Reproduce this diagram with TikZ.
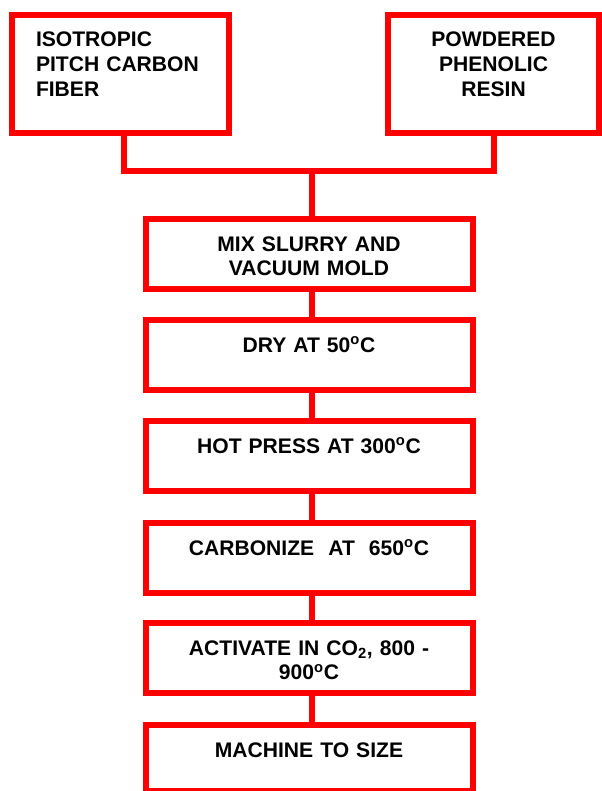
\documentclass[tikz,border=0pt]{standalone}
\usepackage{fontspec}
\setmainfont{Liberation Sans}
\definecolor{flowred}{HTML}{FF0000}

\begin{document}
\begin{tikzpicture}[font=\fontsize{15}{17.5}\selectfont\bfseries,
  stepbox/.style={draw=flowred,line width=0.15cm,anchor=north,inner xsep=0.3cm,inner ysep=0pt,
    align=center,text width=7.575cm,text height=0.8cm,text depth=0.95cm},
  inbox/.style={stepbox,text depth=2.15cm},
  link/.style={draw=flowred,line width=0.15cm}]
  \useasboundingbox (0,0) rectangle (15.05,-19.775);
  % raw materials
  \node[inbox,align=left,inner xsep=0.6cm,text width=4.225cm] (fiber) at (3.0125,-0.3)
    {ISOTROPIC\\PITCH CARBON\\FIBER};
  \node[inbox,text width=4.675cm] (resin) at (12.3375,-0.3) {POWDERED\\PHENOLIC\\RESIN};
  % process steps
  \node[stepbox] (mix) at (7.725,-5.4) {MIX SLURRY AND\\VACUUM MOLD};
  \node[stepbox] (dry) at (7.725,-7.925) {DRY AT 50\textsuperscript{o}C};
  \node[stepbox] (press) at (7.725,-10.45) {HOT PRESS AT 300\textsuperscript{o}C};
  \node[stepbox] (carb) at (7.725,-13.0) {CARBONIZE\ \ AT\ \ 650\textsuperscript{o}C};
  \node[stepbox] (act) at (7.725,-15.5) {ACTIVATE IN CO\textsubscript{2}, 800 -\\900\textsuperscript{o}C};
  \node[stepbox,text depth=0.85cm] (mach) at (7.725,-18.05) {MACHINE TO SIZE};
  % connectors
  \coordinate (join) at (7.8,-4.275);
  \draw[link] ([xshift=0.0875cm]fiber.south) |- (join) -| (resin.south);
  \draw[link] (join) -- (join |- mix.north);
  \draw[link] ([xshift=0.075cm]mix.south) -- ([xshift=0.075cm]dry.north);
  \draw[link] ([xshift=0.075cm]dry.south) -- ([xshift=0.075cm]press.north);
  \draw[link] ([xshift=0.075cm]press.south) -- ([xshift=0.075cm]carb.north);
  \draw[link] ([xshift=0.075cm]carb.south) -- ([xshift=0.075cm]act.north);
  \draw[link] ([xshift=0.075cm]act.south) -- ([xshift=0.075cm]mach.north);
\end{tikzpicture}
\end{document}
